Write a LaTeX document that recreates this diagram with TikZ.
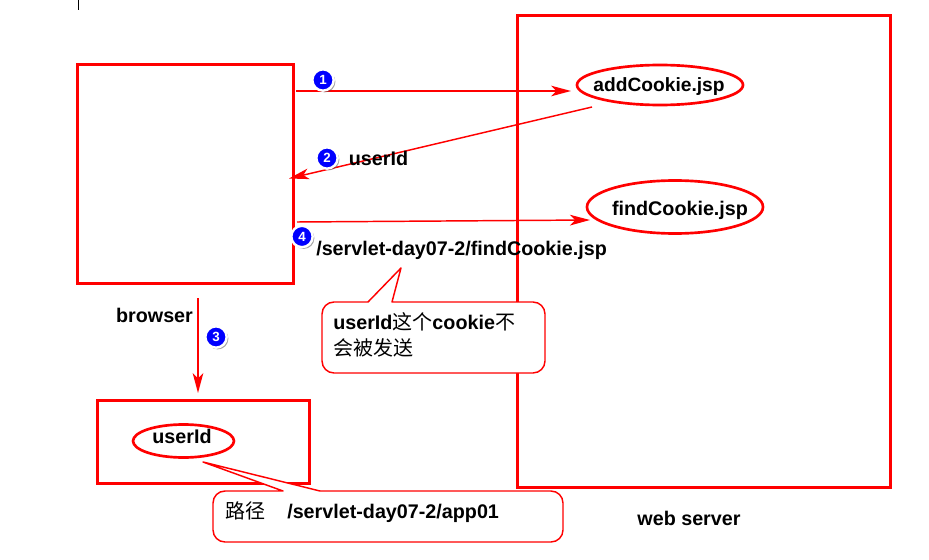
\documentclass[tikz,border=0pt]{standalone}
\usepackage{fontspec}
\setmainfont{Liberation Sans}
\newfontfamily\cjkfont{Noto Sans CJK SC}
\newcommand{\cjktext}[1]{{\fontsize{15pt}{17pt}\selectfont\cjkfont\mdseries #1}}
\usetikzlibrary{arrows.meta,shapes.geometric,shadows}
\tikzset{
  redbox/.style={draw=red,line width=2.25pt,fill=none,inner sep=0pt,outer sep=0pt,minimum width=#1},
  redell/.style={draw=red,line width=2pt,ellipse,inner sep=0pt,outer sep=0pt,fill=white},
  lbl/.style={font=\fontsize{14.8pt}{17pt}\selectfont\bfseries,inner sep=0pt,text=black},
  flow/.style={draw=red,line width=1.1pt,-{Stealth[length=15pt,width=8pt,inset=4pt]}},
  balloon/.style={draw=red,line width=1.1pt,fill=white,line join=round},
  badge/.style={circle,fill=blue,draw=white,line width=1.8pt,minimum size=16pt,inner sep=0pt,text=white,font=\fontsize{10pt}{10pt}\selectfont\bfseries,drop shadow={shadow xshift=1.3pt,shadow yshift=-1.3pt,opacity=.5,fill=black!70}}
}
\begin{document}
\begin{tikzpicture}[x=0.75pt,y=-0.75pt]
\useasboundingbox (0,0) rectangle (929,560);
\draw[black,line width=.75pt] (78,0) -- (78,10);
% boxes
\node[redbox=216*0.75pt,minimum height=219*0.75pt,anchor=north west] (browserbox) at (77,64.5) {};
\node[redbox=372.5*0.75pt,minimum height=471.5*0.75pt,anchor=north west] (serverbox) at (517.5,15.5) {};
\node[redbox=212*0.75pt,minimum height=83*0.75pt,anchor=north west] (cookiebox) at (97.5,400.5) {};
% ellipses
\node[redell,minimum width=166*0.75pt,minimum height=40*0.75pt] (addc) at (660,85) {};
\node[redell,minimum width=176*0.75pt,minimum height=53*0.75pt] (findc) at (675,207) {};
\node[redell,minimum width=101*0.75pt,minimum height=33*0.75pt] (uide) at (183.5,441) {};
% connector ends
\coordinate (a1) at (296,91);
\coordinate (b1) at (571,91);
\coordinate (a2) at (592,107);
\coordinate (b2) at (289,178.5);
\coordinate (a4) at (297,222);
\coordinate (b4) at (590,220);
\coordinate (a3) at (198,298);
\coordinate (b3) at (198,393);
\draw[flow] (a1) -- (b1);
\draw[flow] (a2) -- (b2);
\draw[flow] (a4) -- (b4);
\draw[flow] (a3) -- (b3);
% callouts
\draw[balloon] (368,302) -- (401,268) -- (392,302)
  [rounded corners=9pt] -- (545,302) -- (545,373) -- (322,373) -- (322,302) [sharp corners] -- cycle;
\draw[balloon] (283,491) -- (203,462) -- (320,491)
  [rounded corners=9pt] -- (563,491) -- (563,542) -- (213,542) -- (213,491) [sharp corners] -- cycle;
% texts
\node[lbl,font=\fontsize{14.4pt}{17pt}\selectfont\bfseries] (taddc) at (659,87) {addCookie.jsp};
\node[lbl] (tfindc) at (680,210) {findCookie.jsp};
\node[lbl] (tuid1) at (378.5,158) {userId};
\node[lbl,anchor=west] (tpath) at (316,250) {/servlet-day07-2/findCookie.jsp};
\node[lbl] (tbrowser) at (154.5,315) {browser};
\node[lbl] (tuid2) at (182,436) {userId};
\node[lbl,anchor=west] (tnote1) at (333,322) {userId\cjktext{这个}cookie\cjktext{不}};
\node[lbl,anchor=west] (tnote2) at (333,348) {\cjktext{会被发送}};
\node[lbl,anchor=west] (troute) at (225,511) {\cjktext{路径}};
\node[lbl,anchor=west] (tapp) at (287,513) {/servlet-day07-2/app01};
\node[lbl] (tweb) at (689,518) {web server};
% badges
\node[badge] (n1) at (323,80) {1};
\node[badge] (n2) at (327,158) {2};
\node[badge] (n3) at (216,337) {3};
\node[badge] (n4) at (302,236.5) {4};
\end{tikzpicture}
\end{document}
